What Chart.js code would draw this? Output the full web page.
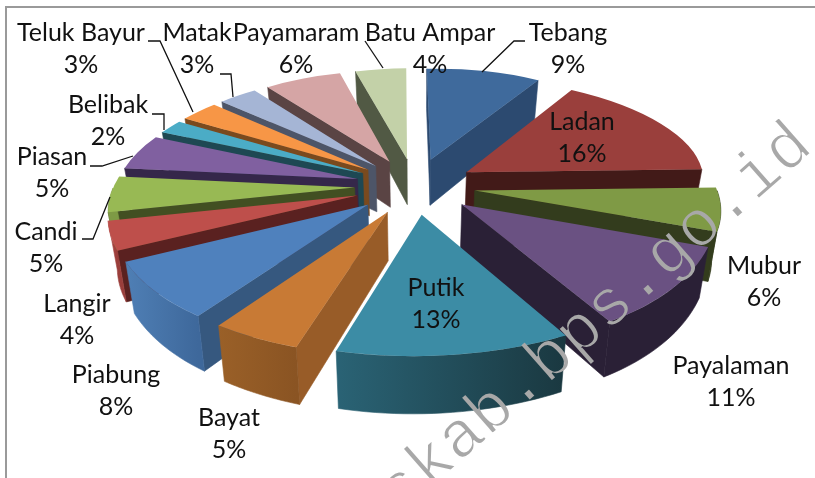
<!DOCTYPE html>
<html><head><meta charset="utf-8">
<style>html,body{margin:0;padding:0;background:#fff}canvas{display:block}</style>
<script src="https://cdn.jsdelivr.net/npm/chart.js@4/dist/chart.umd.js"></script>
</head><body>
<canvas id="c" width="815" height="478"></canvas>
<script>
const categories = ["Tebang","Ladan","Mubur","Payalaman","Putik","Bayat","Piabung","Langir","Candi","Piasan","Belibak","Teluk Bayur","Matak","Payamaram","Batu Ampar"];
const shares = [9,16,6,11,13,5,8,4,5,5,2,3,3,6,4];
const topColors = ["#3F6A9C","#9A3F3C","#7F9A45","#6A5182","#3C8CA5","#C87A35","#4F81BD","#BE4F4B","#98B954","#8060A0","#4BACC6","#F79646","#A5B5D5","#D5A5A5","#C3D1A8"];
const cutColors = ["#2C4A70","#421A18","#333C1D","#2A2036","#1A3840","#985C28","#36587F","#5A2120","#424F22","#35274A","#1E4853","#7A4A1E","#4D5568","#5A4444","#515944"];
const rimFrom  = ["#2C4A70","#421A18","#333C1D","#2A2036","#2A6375","#9A6028","#4F7FB5","#B04945","#7E9A45","#35274A","#1E4853","#7A4A1E","#4D5568","#5A4444","#515944"];
const rimTo    = ["#2C4A70","#421A18","#333C1D","#2A2036","#1A3840","#8A5423","#3E689B","#9A3E3B","#7E9A45","#35274A","#1E4853","#7A4A1E","#4D5568","#5A4444","#515944"];
const watermark = "skab.bps.go.id";

// Placement of the text labels and their leader lines (layout, not data)
const labelAt = [[568,33],[582,122],[764,266],[731,366],[436,288],[229,418],[116,375],[77,304],[46,232],[52,157],[108,105],[81,33],[197,33],[296,33],[430,33]];
const leaders = [
  [[525,41],[514,41],[482,72]], null, null, null, null, null, null, null,
  [[82,239],[93,239],[110,197]],
  [[90,166],[102,166],[133,156]],
  [[152,114],[164,114],[164,130]],
  [[148,41],[160,41],[193,112]],
  [[220,74],[231,74],[233,97]],
  null,
  [[365,41],[383,68]]
];

// Camera of the tilted, exploded pie
const cam = {cx:415, cy:186, R:241, K:112, p:0.15, D:47, shrink:0.03, explode:0.25, skew:-3.4};
function project(u,v,z){
  const w = 1 - cam.p*v;
  return {x: cam.cx + cam.skew*v + cam.R*u/w*(1-cam.shrink*z), y: cam.cy + cam.K*v/w + cam.D*z/w};
}
function sliceMatrix(arc,z){
  const {x:ax,y:ay,startAngle:a0,endAngle:a1,outerRadius:r} = arc;
  const am=(a0+a1)/2, ex=cam.explode*Math.cos(am), ey=cam.explode*Math.sin(am);
  const A=project(ex,ey,z), B=project(ex+Math.cos(a0),ey+Math.sin(a0),z), C=project(ex+Math.cos(a1),ey+Math.sin(a1),z);
  const s1x=r*Math.cos(a0), s1y=r*Math.sin(a0), s2x=r*Math.cos(a1), s2y=r*Math.sin(a1);
  const d1x=B.x-A.x, d1y=B.y-A.y, d2x=C.x-A.x, d2y=C.y-A.y;
  const det=s1x*s2y-s2x*s1y;
  const a=(d1x*s2y-d2x*s1y)/det, c=(d2x*s1x-d1x*s2x)/det;
  const b=(d1y*s2y-d2y*s1y)/det, d=(d2y*s1x-d1y*s2x)/det;
  return {a,b,c,d,e:A.x-a*ax-c*ay,f:A.y-b*ax-d*ay};
}
function apply(m,x,y){return {x:m.a*x+m.c*y+m.e,y:m.b*x+m.d*y+m.f};}
function poly(ctx,pts,fill){
  ctx.beginPath();pts.forEach((p,i)=>i?ctx.lineTo(p.x,p.y):ctx.moveTo(p.x,p.y));ctx.closePath();
  ctx.fillStyle=fill;ctx.strokeStyle=fill;ctx.lineWidth=0.6;ctx.fill();ctx.stroke();
}
function drawSlice(ctx,arc,i){
  const top=sliceMatrix(arc,0), bot=sliceMatrix(arc,1);
  const {x:ax,y:ay,startAngle:a0,endAngle:a1,outerRadius:r}=arc;
  const rimPt=(m,a)=>apply(m,ax+r*Math.cos(a),ay+r*Math.sin(a));
  const cut=(a)=>poly(ctx,[apply(top,ax,ay),rimPt(top,a),rimPt(bot,a),apply(bot,ax,ay)],cutColors[i]);
  if(-Math.cos(a0)>0) cut(a0);
  if(Math.cos(a1)>0) cut(a1);
  const s=Math.max(a0,0), t=Math.min(a1,Math.PI);
  if(s<t){
    const up=[],down=[];
    for(let k=0;k<=24;k++){const a=s+(t-s)*k/24;up.push(rimPt(top,a));down.push(rimPt(bot,a));}
    const g=ctx.createLinearGradient(Math.min(up[0].x,up[24].x),0,Math.max(up[0].x,up[24].x),0);
    g.addColorStop(0,rimFrom[i]);g.addColorStop(1,rimTo[i]);
    poly(ctx,up.concat(down.reverse()),g);
  }
  ctx.save();
  ctx.transform(top.a,top.b,top.c,top.d,top.e,top.f);
  arc.draw(ctx);
  ctx.restore();
}
function drawWatermark(ctx){
  const off=document.createElement('canvas');off.width=815;off.height=478;
  const o=off.getContext('2d');
  o.translate(399,516);o.rotate(-41.4*Math.PI/180);
  o.font='66px "Liberation Mono"';o.textAlign='left';o.textBaseline='alphabetic';
  o.fillStyle='#a8a8a8';o.fillText(watermark,0,0);
  o.globalCompositeOperation='destination-out';o.strokeStyle='#000';o.lineWidth=1.6;o.strokeText(watermark,0,0);
  ctx.drawImage(off,0,0);
}
const pie3d={
  id:'pie3d',
  beforeDatasetDraw(chart,args){
    const ctx=chart.ctx, arcs=chart.getDatasetMeta(args.index).data;
    const order=arcs.map((a,i)=>i).sort((p,q)=>{
      const k=i=>Math.sin((arcs[i].startAngle+arcs[i].endAngle)/2);
      return k(p)-k(q);
    });
    order.forEach(i=>drawSlice(ctx,arcs[i],i));
    return false;
  },
  afterDraw(chart){
    const ctx=chart.ctx;
    ctx.save();
    ctx.strokeStyle='#9a9a9a';ctx.lineWidth=2;
    ctx.beginPath();ctx.moveTo(6,478);ctx.lineTo(6,7);ctx.lineTo(815,7);ctx.stroke();
    drawWatermark(ctx);
    ctx.strokeStyle='#111';ctx.lineWidth=1.3;
    leaders.forEach(l=>{if(!l)return;ctx.beginPath();l.forEach((p,k)=>k?ctx.lineTo(p[0],p[1]):ctx.moveTo(p[0],p[1]));ctx.stroke();});
    ctx.fillStyle='#111';ctx.textAlign='center';ctx.textBaseline='middle';ctx.font='25px Lato';
    categories.forEach((n,i)=>{
      ctx.fillText(n,labelAt[i][0],labelAt[i][1]);
      ctx.fillText(shares[i]+'%',labelAt[i][0],labelAt[i][1]+32);
    });
    ctx.restore();
  }
};
new Chart(document.getElementById('c'),{
  type:'pie',
  data:{labels:categories,datasets:[{data:shares,backgroundColor:topColors,borderWidth:0}]},
  options:{responsive:false,animation:false,rotation:-1.5,plugins:{legend:{display:false},tooltip:{enabled:false}}},
  plugins:[pie3d]
});
</script>
</body></html>
